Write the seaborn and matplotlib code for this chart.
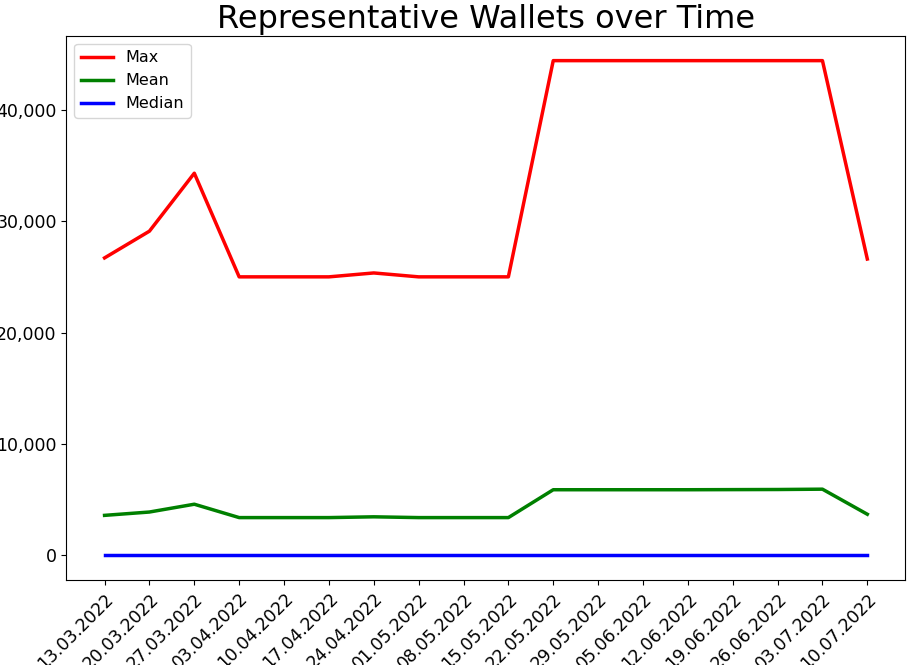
import matplotlib
matplotlib.use("Agg")
import matplotlib.pyplot as plt
import matplotlib.ticker as mtick
import seaborn as sns
import pandas as pd

dates = ["13.03.2022","20.03.2022","27.03.2022","03.04.2022","10.04.2022","17.04.2022",
         "24.04.2022","01.05.2022","08.05.2022","15.05.2022","22.05.2022","29.05.2022",
         "05.06.2022","12.06.2022","19.06.2022","26.06.2022","03.07.2022","10.07.2022"]
max_vals = [26700,29100,34300,25000,25000,25000,25350,25000,25000,25000,
            44400,44400,44400,44400,44400,44400,44400,26600]
mean_vals = [3600,3900,4600,3400,3400,3400,3470,3400,3400,3400,
             5900,5900,5900,5900,5910,5920,5950,3700]
median_vals = [30]*18

df = pd.DataFrame({"date": dates * 3,
                   "value": max_vals + mean_vals + median_vals,
                   "series": ["Max"]*18 + ["Mean"]*18 + ["Median"]*18})

fig, ax = plt.subplots(figsize=(9.1, 6.65), dpi=100)
fig.subplots_adjust(left=0.073, right=0.995, top=0.946, bottom=0.128)
sns.lineplot(data=df, x="date", y="value", hue="series", sort=False,
             palette={"Max": "red", "Mean": "green", "Median": "blue"},
             linewidth=2.5, ax=ax)
ax.set_title("Representative Wallets over Time", fontsize=23)
ax.set_xlabel("")
ax.set_ylabel("")
ax.yaxis.set_major_formatter(mtick.StrMethodFormatter("{x:,.0f}"))
ax.tick_params(labelsize=12.5)
plt.setp(ax.get_xticklabels(), rotation=45, ha="right", rotation_mode="anchor")
ax.legend(title=None, fontsize=11.5, loc="upper left")
fig.savefig("out.png")
